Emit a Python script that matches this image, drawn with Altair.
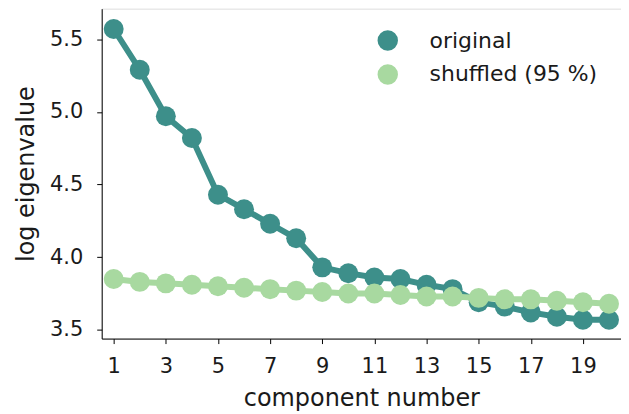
import altair as alt
import pandas as pd

components = list(range(1, 21))
original = [5.57, 5.29, 4.97, 4.82, 4.43, 4.33, 4.23, 4.13, 3.93, 3.89,
            3.86, 3.85, 3.81, 3.78, 3.69, 3.66, 3.62, 3.59, 3.57, 3.57]
shuffled = [3.85, 3.83, 3.82, 3.81, 3.80, 3.79, 3.78, 3.77, 3.76, 3.75,
            3.75, 3.74, 3.73, 3.73, 3.72, 3.71, 3.71, 3.70, 3.69, 3.68]
series_names = ["original", "shuffled (95 %)"]
series_colors = ["#3d8f8a", "#a8d9a0"]
x_ticks = [1, 3, 5, 7, 9, 11, 13, 15, 17, 19]
y_ticks = [3.5, 4.0, 4.5, 5.0, 5.5]

rows = []
for i, c in enumerate(components):
    rows.append({"component": c, "value": original[i], "series": series_names[0]})
for i, c in enumerate(components):
    rows.append({"component": c, "value": shuffled[i], "series": series_names[1]})
df = pd.DataFrame(rows)

FONT = "DejaVu Sans"
TXT = "#1a1a1a"

x = alt.X("component:Q",
          scale=alt.Scale(domain=[0.54, 20.46], nice=False, zero=False),
          axis=alt.Axis(values=x_ticks, title="component number", grid=False,
                        labelFontSize=21, titleFontSize=24, labelFont=FONT, titleFont=FONT,
                        labelColor=TXT, titleColor=TXT, titleFontWeight="normal",
                        tickSize=5, tickColor="black", domainColor="black",
                        labelPadding=12, titlePadding=10, labelFlush=False))
y = alt.Y("value:Q",
          scale=alt.Scale(domain=[3.44, 5.71], nice=False, zero=False),
          axis=alt.Axis(values=y_ticks, format=".1f", title="log eigenvalue", grid=False,
                        labelFontSize=21, titleFontSize=24, labelFont=FONT, titleFont=FONT,
                        labelColor=TXT, titleColor=TXT, titleFontWeight="normal",
                        tickSize=5, tickColor="black", domainColor="black",
                        labelPadding=14, titlePadding=11, labelFlush=False))
color = alt.Color("series:N",
                  scale=alt.Scale(domain=series_names, range=series_colors),
                  legend=alt.Legend(title=None, orient="none", legendX=276, legendY=21,
                                    symbolType="circle", symbolSize=420, symbolStrokeWidth=0,
                                    symbolOpacity=1, labelLimit=400,
                                    labelFontSize=22, labelFont=FONT, labelColor=TXT,
                                    labelOffset=31, rowPadding=12))

layers = []
for name in series_names:
    sub = df[df["series"] == name]
    base = alt.Chart(sub)
    line = base.mark_line(strokeWidth=6).encode(x=x, y=y, color=color)
    pts = base.mark_circle(size=400, opacity=1).encode(x=x, y=y, color=color)
    layers += [line, pts]

chart = alt.layer(*layers).properties(
    width=521, height=331,
    autosize=alt.AutoSizeParams(type="none"),
    padding={"left": 94, "top": 0, "right": 0, "bottom": 74},
).configure_view(stroke="black", strokeWidth=1.2).configure(background="white")

chart.save("out.html", embed_options={"renderer": "svg", "actions": False})
